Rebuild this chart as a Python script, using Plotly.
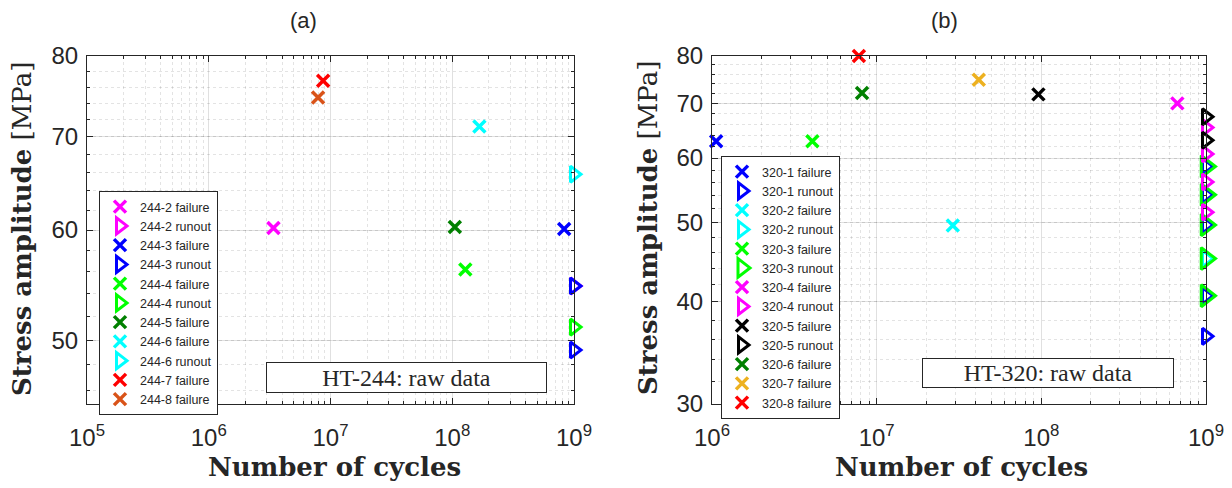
import plotly.graph_objects as go
import numpy as np

W, H = 1232, 488

# ---------------- data: panel (a) HT-244 ----------------
A_LABELS = ["244-2 failure", "244-2 runout", "244-3 failure", "244-3 runout",
            "244-4 failure", "244-4 runout", "244-5 failure", "244-6 failure",
            "244-6 runout", "244-7 failure", "244-8 failure"]
A_CYCLES = [[3.4e6], [1e9], [8.3e8], [1e9, 1e9],
            [1.28e8], [1e9], [1.05e8], [1.67e8],
            [1e9], [8.7e6], [7.9e6]]
A_STRESS = [[60.2], [54.7], [60.1], [54.7, 49.2],
            [56.2], [51.1], [60.3], [71.2],
            [65.8], [76.8], [74.7]]
A_COLORS = ["#FF00FF", "#FF00FF", "#0000FF", "#0000FF", "#00FF00", "#00FF00",
            "#008000", "#00FFFF", "#00FFFF", "#FF0000", "#D95319"]

# ---------------- data: panel (b) HT-320 ----------------
B_LABELS = ["320-1 failure", "320-1 runout", "320-2 failure", "320-2 runout",
            "320-3 failure", "320-3 runout", "320-4 failure", "320-4 runout",
            "320-5 failure", "320-5 runout", "320-6 failure", "320-7 failure",
            "320-8 failure"]
B_CYCLES = [[1.06e6], [1e9] * 5, [2.9e7], [1e9],
            [4.07e6], [1e9] * 5, [6.7e8], [1e9] * 4,
            [9.6e7], [1e9] * 2, [8.15e6], [4.17e7],
            [7.8e6]]
B_STRESS = [[62.9], [58.6, 54.1, 49.7, 40.7, 36.3], [49.6], [45.2],
            [62.9], [58.6, 54.1, 49.7, 45.2, 40.7], [70.0], [65.4, 60.7, 56.1, 51.5],
            [71.8], [67.4, 63.1], [72.1], [74.8],
            [80.0]]
B_COLORS = ["#0000FF", "#0000FF", "#00FFFF", "#00FFFF", "#00FF00", "#00FF00",
            "#FF00FF", "#FF00FF", "#000000", "#000000", "#008000", "#EDB120",
            "#FF0000"]

A_XTICKS = [1e5, 1e6, 1e7, 1e8, 1e9]
A_XTEXT = ["10<sup>5</sup>", "10<sup>6</sup>", "10<sup>7</sup>", "10<sup>8</sup>", "10<sup>9</sup>"]
A_YTICKS = [50, 60, 70, 80]
B_XTICKS = [1e6, 1e7, 1e8, 1e9]
B_XTEXT = ["10<sup>6</sup>", "10<sup>7</sup>", "10<sup>8</sup>", "10<sup>9</sup>"]
B_YTICKS = [30, 40, 50, 60, 70, 80]

# ---------------- layout geometry (pixels) ----------------
def px(x):
    return x / W

def py(y):
    return 1 - y / H

A_X0, A_X1 = 87, 574
B_X0, B_X1 = 712, 1206
Y0, Y1 = 56, 404

fig = go.Figure()


def add_series(labels, cycles, stress, colors, xa, ya, legend):
    for lab, xs, ys, col in zip(labels, cycles, stress, colors):
        runout = "runout" in lab
        if runout:
            size = 19 if lab == "320-3 runout" else 14
            marker = dict(symbol="triangle-right-open", size=size, color=col,
                          line=dict(color=col, width=3))
        else:
            marker = dict(symbol="x-thin", size=12, color=col,
                          line=dict(color=col, width=3.5))
        fig.add_trace(go.Scatter(x=xs, y=ys, mode="markers", name=lab,
                                 marker=marker, xaxis=xa, yaxis=ya,
                                 legend=legend, cliponaxis=False))


add_series(A_LABELS, A_CYCLES, A_STRESS, A_COLORS, "x", "y", "legend")
add_series(B_LABELS, B_CYCLES, B_STRESS, B_COLORS, "x2", "y2", "legend2")

tickfont = dict(family="Liberation Sans, Arial, sans-serif", size=24, color="#262626")


def minor_x(lo, hi):
    vals = []
    for e in range(lo, hi):
        for m in range(2, 10):
            vals.append(m * 10 ** e)
    return vals


axis_common = dict(
    showline=True, linecolor="#262626", linewidth=1, mirror="ticks",
    ticks="inside", ticklen=6, tickcolor="#262626", tickwidth=1,
    showgrid=True, gridcolor="rgba(0,0,0,0.12)", gridwidth=1,
    zeroline=False, tickfont=tickfont, automargin=False,
)

minor_common = dict(ticks="inside", ticklen=3, tickcolor="#262626",
                    showgrid=True, gridcolor="rgba(0,0,0,0.11)", griddash="dot")

legend_font = dict(family="Liberation Sans, Arial, sans-serif", size=12.5, color="#262626")

fig.update_layout(
    width=W, height=H,
    margin=dict(l=0, r=0, t=0, b=0, pad=0, autoexpand=False),
    paper_bgcolor="white", plot_bgcolor="white",
    xaxis=dict(type="log", range=[5, 9], domain=[px(A_X0), px(A_X1)], anchor="y",
               tickmode="array", tickvals=A_XTICKS, ticktext=A_XTEXT, ticklabelstandoff=12,
               minor=dict(tickmode="array", tickvals=minor_x(5, 9), **minor_common),
               **axis_common),
    yaxis=dict(type="log", range=[np.log10(45), np.log10(80)], domain=[py(Y1), py(Y0)],
               anchor="x", tickmode="array", tickvals=A_YTICKS, ticklabelstandoff=3,
               ticktext=[str(v) for v in A_YTICKS],
               minor=dict(tickmode="array", tickvals=list(range(46, 80, 2)), **minor_common),
               **axis_common),
    xaxis2=dict(type="log", range=[6, 9], domain=[px(B_X0), px(B_X1)], anchor="y2",
                tickmode="array", tickvals=B_XTICKS, ticktext=B_XTEXT, ticklabelstandoff=12,
                minor=dict(tickmode="array", tickvals=minor_x(6, 9), **minor_common),
                **axis_common),
    yaxis2=dict(type="log", range=[np.log10(30), np.log10(80)], domain=[py(Y1), py(Y0)],
                anchor="x2", tickmode="array", tickvals=B_YTICKS, ticklabelstandoff=3,
                ticktext=[str(v) for v in B_YTICKS],
                minor=dict(tickmode="array", tickvals=list(range(32, 80, 2)), **minor_common),
                **axis_common),
    legend=dict(x=px(99), y=py(191), xanchor="left", yanchor="top",
                bgcolor="white", bordercolor="#262626", borderwidth=1,
                font=legend_font, tracegroupgap=0, itemsizing="trace"),
    legend2=dict(x=px(721), y=py(156), xanchor="left", yanchor="top",
                 bgcolor="white", bordercolor="#262626", borderwidth=1,
                 font=legend_font, tracegroupgap=0, itemsizing="trace"),
    showlegend=True,
)

serif_bold = dict(family="DejaVu Serif, serif", size=26, color="#262626")
ann_common = dict(xref="paper", yref="paper", showarrow=False, xanchor="center", yanchor="middle")
annotations = [
    dict(text="(a)", x=px(303), y=py(20),
         font=dict(family="Liberation Sans, Arial, sans-serif", size=22, color="#262626"), **ann_common),
    dict(text="(b)", x=px(944), y=py(20),
         font=dict(family="Liberation Sans, Arial, sans-serif", size=22, color="#262626"), **ann_common),
    dict(text="<b>Stress amplitude</b> [MPa]", x=px(22), y=py(229),
         textangle=-90, font=serif_bold, **ann_common),
    dict(text="<b>Stress amplitude</b> [MPa]", x=px(648), y=py(228),
         textangle=-90, font=serif_bold, **ann_common),
    dict(text="<b>Number of cycles</b>", x=px(335), y=py(467), font=serif_bold, **ann_common),
    dict(text="<b>Number of cycles</b>", x=px(961), y=py(467), font=serif_bold, **ann_common),
    dict(text="HT-244: raw data", x=px((266 + 547) / 2), y=py((362 + 393) / 2),
         width=279, height=29, borderpad=0,
         bordercolor="#262626", borderwidth=1, bgcolor="white",
         font=dict(family="Liberation Serif, Times New Roman, serif", size=24, color="#262626"),
         **ann_common),
    dict(text="HT-320: raw data", x=px((922 + 1174) / 2), y=py((358 + 388) / 2),
         width=250, height=28, borderpad=0,
         bordercolor="#262626", borderwidth=1, bgcolor="white",
         font=dict(family="Liberation Serif, Times New Roman, serif", size=24, color="#262626"),
         **ann_common),
]
fig.update_layout(annotations=annotations)

fig.write_html("out.html")
